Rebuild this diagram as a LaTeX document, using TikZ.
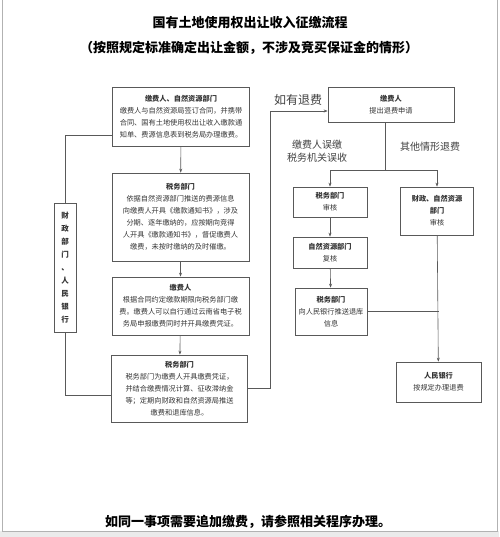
\documentclass[tikz,border=0pt]{standalone}
\usepackage{fontspec}
\setmainfont{Noto Sans CJK SC}
\usetikzlibrary{arrows.meta}

\begin{document}
\begin{tikzpicture}[x=1pt,y=-1pt,
    box/.style={draw=black!65,line width=0.7pt,align=center,inner sep=0pt,
        font=\fontsize{7.2}{12}\selectfont,text=black!80},
    flow/.style={draw=black!65,line width=0.6pt},
    arr/.style={flow,-{Stealth[length=4pt,width=3pt]}},
    lbl/.style={font=\fontsize{10}{13}\selectfont,text=black!75,align=center},
    big/.style={font=\fontsize{13}{16}\selectfont\bfseries}]
    \useasboundingbox (0,0) rectangle (499,537);
    % outer frame
    \fill[black!8] (0,531) rectangle (499,537);
    \draw[black!30,line width=1pt] (2,0) -- (2,531) -- (497,531) -- (497,0);
    % titles
    \node[big] (title) at (250,23) {国有土地使用权出让收入征缴流程};
    \node[big] (subtitle) at (249,48) {（按照规定标准确定出让金额，不涉及竞买保证金的情形）};
    \node[big] (footer) at (248,522) {如同一事项需要追加缴费，请参照相关程序办理。};
    % left column
    \node[box,minimum width=137,minimum height=59] (b1) at (181,116.5)
        {\textbf{缴费人、自然资源部门}\\缴费人与自然资源局签订合同，并携带\\合同、国有土地使用权出让收入缴款通\\知单、费源信息表到税务局办理缴费。};
    \node[box,minimum width=137,minimum height=88] (b2) at (180.5,217)
        {\textbf{税务部门}\\依据自然资源部门推送的费源信息\\向缴费人开具《缴款通知书》，涉及\\分期、逐年缴纳的，应按期向竞得\\人开具《缴款通知书》，督促缴费人\\缴费，未按时缴纳的及时催缴。};
    \node[box,minimum width=137,minimum height=58] (b3) at (180.5,306)
        {\textbf{缴费人}\\根据合同约定缴款期限向税务部门缴\\费。缴费人可以自行通过云南省电子税\\务局申报缴费同时并开具缴费凭证。};
    \node[box,minimum width=136,minimum height=67] (b4) at (179.5,388.5)
        {\textbf{税务部门}\\税务部门为缴费人开具缴费凭证，\\并结合缴费情况计算、征收滞纳金\\等；定期向财政和自然资源局推送\\缴费和退库信息。};
    \node[box,minimum width=22,minimum height=129,font=\fontsize{7.5}{13}\selectfont\bfseries] (lb) at (65,267.5)
        {财\\政\\部\\门\\、\\人\\民\\银\\行};
    % right column
    \node[box,minimum width=126,minimum height=35] (r1) at (391,104.5)
        {\textbf{缴费人}\\提出退费申请};
    \node[box,minimum width=74,minimum height=30] (r2) at (330,202)
        {\textbf{税务部门}\\审核};
    \node[box,minimum width=73,minimum height=48] (r3) at (437,211)
        {\textbf{财政、自然资源}\\\textbf{部门}\\审核};
    \node[box,minimum width=74,minimum height=31] (r4) at (330,252.5)
        {\textbf{自然资源部门}\\复核};
    \node[box,minimum width=72,minimum height=47] (r5) at (331,311.5)
        {\textbf{税务部门}\\向人民银行推送退库\\信息};
    \node[box,minimum width=85,minimum height=40] (r6) at (438.5,382)
        {\textbf{人民银行}\\按规定办理退费};
    % labels
    \node[lbl,font=\fontsize{12}{14}\selectfont] (refund) at (298,100) {如有退费};
    \node[lbl] (mistake) at (317,151.5) {缴费人误缴\\税务机关误收};
    \node[lbl] (other) at (430,147) {其他情形退费};
    % connectors
    \coordinate (split) at (385,170);
    \draw[arr] (b1) -- (b2);
    \draw[arr] (b2) -- (b3);
    \draw[arr] (b3) -- (b4);
    \draw[flow] (lb.north) |- ([yshift=-18.5pt]b1.west);
    \draw[flow] (lb.south) |- ([yshift=-6.5pt]b4.west);
    \draw[arr] (b4.east) -| (270,111) -- ([yshift=-6.5pt]r1.west);
    \draw[flow] (r1.south -| split) -- (split);
    \draw[arr] (split) -| (r2.north);
    \draw[arr] (split) -| (r3.north);
    \draw[arr] (r2) -- (r4);
    \draw[arr] (r4) -- (r5);
    \draw[arr] (r3) -- (r6);
    \draw[flow] (r5.east) -- (r5.east -| r6);
\end{tikzpicture}
\end{document}
